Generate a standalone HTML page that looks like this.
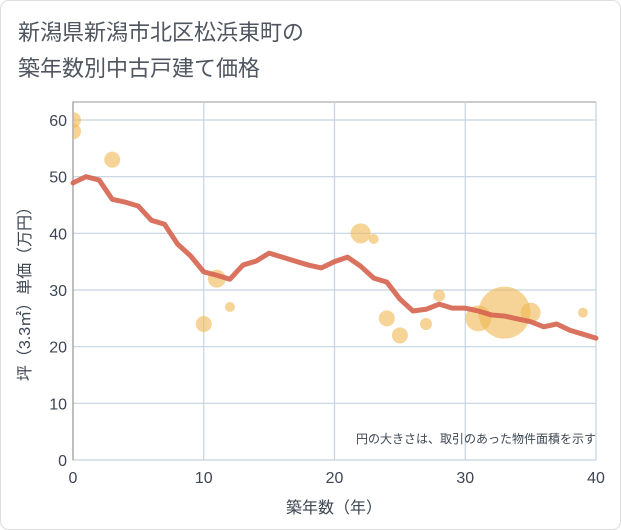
<!DOCTYPE html>
<html><head><meta charset="utf-8"><style>
body{margin:0;background:#fff;}
svg{display:block;font-family:"Liberation Sans","Noto Sans CJK JP",sans-serif;}
</style></head><body>
<svg width="621" height="530" viewBox="0 0 621 530" xmlns="http://www.w3.org/2000/svg">
<defs><clipPath id="pc"><rect x="73" y="102" width="523" height="358"/></clipPath></defs>
<rect x="0.5" y="0.5" width="620" height="529" rx="8" fill="#fff" stroke="#ddd"/>
<text x="18" y="40" font-size="22" fill="#4f5660">新潟県新潟市北区松浜東町の</text>
<text x="18" y="76" font-size="22" fill="#4f5660">築年数別中古戸建て価格</text>
<g id="grid"></g>
<g id="bubbles" clip-path="url(#pc)"></g>
<path id="line" fill="none" stroke="#d5644f" stroke-width="5" stroke-linejoin="round" stroke-linecap="round" opacity="0.9"/>
<g id="ticks"></g>
<text x="596" y="443" font-size="12" fill="#3d4652" text-anchor="end">円の大きさは、取引のあった物件面積を示す</text>
<text x="334" y="513" font-size="16" fill="#3d4652" text-anchor="middle">築年数（年）</text>
<text transform="translate(30,290) rotate(-90)" font-size="16" fill="#3d4652" text-anchor="middle">坪（3.3㎡）単価（万円）</text>
</svg>
<script>
const xTicks=[0,10,20,30,40];
const yTicks=[0,10,20,30,40,50,60];
const lineYears=[0,1,2,3,4,5,6,7,8,9,10,11,12,13,14,15,16,17,18,19,20,21,22,23,24,25,26,27,28,29,30,31,32,33,34,35,36,37,38,39,40];
const lineValues=[48.9,50,49.4,46,45.5,44.8,42.3,41.6,38.1,36,33.2,32.6,31.9,34.4,35.1,36.5,35.8,35.1,34.4,33.9,35,35.8,34.2,32.1,31.4,28.4,26.3,26.6,27.5,26.8,26.8,26.3,25.6,25.4,24.9,24.4,23.5,24,22.9,22.2,21.5];
const bubbleX=[0,0,3,10,11,12,22,23,24,25,27,28,31,33,35,39];
const bubbleY=[60,58,53,24,32,27,40,39,25,22,24,29,25,26,26,26];
const bubbleSize=[8,8,8,8,9,5,10,5,8,8,6,6,13,26,10,5];
const NS="http://www.w3.org/2000/svg";
const x0=73,x1=596,y0=460,y1=120,yMax=60,xMax=40;
const sx=v=>x0+(x1-x0)*v/xMax;
const sy=v=>y0-(y0-y1)*v/yMax;
const grid=document.getElementById('grid'),ticks=document.getElementById('ticks'),bub=document.getElementById('bubbles');
function mk(t,a,p){const e=document.createElementNS(NS,t);for(const k in a)e.setAttribute(k,a[k]);p.appendChild(e);return e;}
const bg=mk('rect',{x:x0,y:102,width:x1-x0,height:y0-102,fill:'#fff',stroke:'#999'},grid);


yTicks.forEach(v=>{const l=mk('line',{x1:x0,x2:x1,y1:sy(v),y2:sy(v),stroke:'#c5d3e0','stroke-width':1.2},grid);


const t=mk('text',{x:x0-6,y:sy(v)+6,'font-size':16,fill:'#3d4652','text-anchor':'end'},ticks);t.textContent=v;

});
xTicks.forEach(v=>{const l=mk('line',{x1:sx(v),x2:sx(v),y1:102,y2:y0,stroke:'#c5d3e0','stroke-width':1.2},grid);


const t=mk('text',{x:sx(v),y:y0+23,'font-size':16,fill:'#3d4652','text-anchor':'middle'},ticks);t.textContent=v;

});
const ax=mk('line',{x1:x0,x2:x0,y1:102,y2:y0,stroke:'#888'},grid);


bubbleX.forEach((v,i)=>{const c=mk('circle',{cx:sx(v),cy:sy(bubbleY[i]),r:bubbleSize[i],fill:'#f0b752','fill-opacity':0.6},bub);

});
document.getElementById('line').setAttribute('d',lineYears.map((v,i)=>(i?'L':'M')+sx(v)+','+sy(lineValues[i])).join(''));
</script>
</body></html>
